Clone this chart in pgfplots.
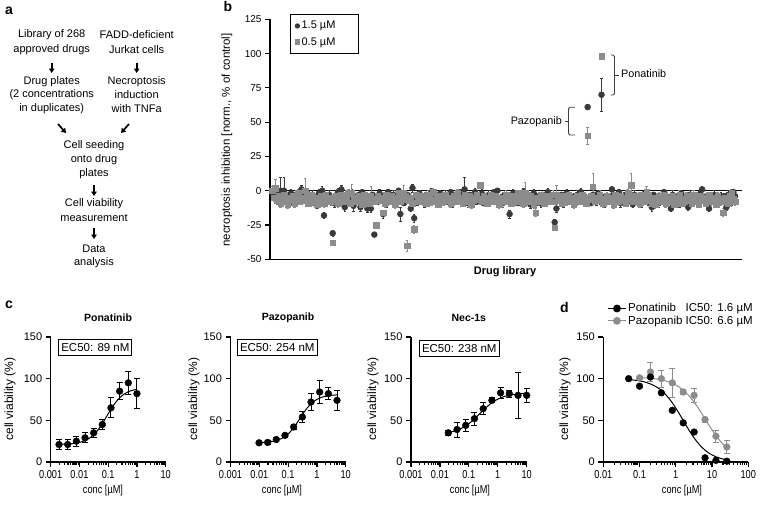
\documentclass[border=0pt]{standalone}
\usepackage{fontspec}
\setmainfont{Liberation Sans}
\newfontfamily\cond{Liberation Sans}[FakeStretch=0.8]
\usepackage{pgfplots}
\pgfplotsset{compat=1.18}
\usepackage{pgfplotstable}
\usetikzlibrary{arrows.meta}
\definecolor{cdark}{HTML}{3A3A3A}
\definecolor{cgray}{HTML}{8C8C8C}
\newcommand{\fsz}[2]{\fontsize{#1}{#2}\selectfont}

\pgfplotstableread{
i d de g ge
1 -1 2 0 3
2 -4 3 -5 2
3 -6 3 2 6
4 -3 2 -7 3
5 -8 3 -4 2
6 0 10 -9 3
7 -5 3 -6 2
8 0 10 -3 3
9 -7 2 -8 2
10 -4 3 -10 3
11 -9 2 -5 2
12 -2 3 -7 3
13 -6 2 -4 2
14 -8 3 -9 3
15 -3 2 -6 2
16 -5 3 -2 3
17 -7 2 -8 2
18 1 3 -5 3
19 -4 2 -7 2
20 -6 3 0 9
21 -1 2 -4 3
22 -8 3 -9 2
23 -5 2 -6 3
24 -3 3 -3 2
25 -7 2 -8 3
26 -9 3 -5 2
27 -11 2 -10 3
28 -2 3 -7 2
29 -6 2 -4 3
30 0 3 -6 2
31 -18 2 -9 3
32 -5 3 -3 2
33 -8 2 -7 3
34 -3 3 -5 2
35 -6 2 -8 3
36 -31 2 -38 1
37 -9 3 -6 3
38 -4 2 -4 2
39 -1 3 -9 3
40 -7 2 -7 2
41 1 3 -3 3
42 -5 2 -5 2
43 -12 3 -8 3
44 -3 2 -6 2
45 -6 3 -2 3
46 -8 2 -9 2
47 -2 3 -2 7
48 -11 4 -7 2
49 -5 2 -5 3
50 -7 3 -8 2
51 -3 2 -4 3
52 -12 3 -6 2
53 -1 2 -10 3
54 -6 3 -3 2
55 -4 2 -7 3
56 -13 3 -5 2
57 -7 2 -9 3
58 -13 3 -4 7
59 -3 2 -6 3
60 -32 1 -8 2
61 -5 3 -25 2
62 -8 2 -4 3
63 -2 3 -7 2
64 -6 2 -5 3
65 -17 3 -16 2
66 -4 2 -9 3
67 -9 3 -3 2
68 -1 2 -6 3
69 -7 3 -8 2
70 -5 2 -4 3
71 -3 3 -7 2
72 -8 2 -10 3
73 -6 3 -5 2
74 0 2 -2 3
75 -17 5 -8 2
76 -4 3 -6 3
77 -9 2 -2 6
78 -7 3 -4 3
79 -3 2 -40 4
80 -6 3 -7 2
81 -13 2 -5 3
82 2 3 -9 2
83 -20 3 -28 3
84 -5 2 -3 2
85 -8 3 -6 3
86 -2 2 -8 2
87 -6 3 -4 3
88 -4 2 -7 2
89 -9 3 -5 3
90 -3 2 -9 2
91 -7 3 -3 3
92 -5 2 -6 2
93 -1 3 -8 3
94 -8 2 -1 3
95 -6 3 -7 2
96 -4 2 -5 3
97 -9 3 -10 2
98 -2 2 -4 3
99 -7 3 -6 2
100 -5 2 -8 3
101 -3 3 -3 2
102 -8 2 -7 3
103 -6 3 -5 2
104 -1 2 -9 3
105 -9 3 -6 2
106 -4 2 -4 3
107 -7 3 -8 2
108 -5 2 -2 3
109 -2 3 -7 2
110 -8 2 -5 3
111 -6 3 -9 2
112 1 9 -3 3
113 -4 2 -6 2
114 -9 3 -8 3
115 -3 2 -4 2
116 -7 3 -10 3
117 -5 2 -7 2
118 -1 3 -5 3
119 -8 2 -3 2
120 -6 3 -6 3
121 -4 2 4 2
122 -2 3 -8 3
123 -9 2 -4 2
124 -5 3 -7 3
125 -7 2 -9 2
126 -3 3 -5 3
127 -8 2 -3 2
128 -6 3 -6 3
129 -1 2 -8 2
130 -4 3 -4 3
131 0 2 -7 2
132 -7 3 -10 3
133 -5 2 -5 2
134 -9 3 -6 3
135 -3 2 -8 2
136 -6 3 -3 3
137 -8 2 -7 2
138 -17 3 -5 3
139 -4 2 -9 2
140 -2 3 -4 3
141 -7 2 -6 2
142 -5 3 -8 3
143 -9 2 -2 2
144 -3 3 -7 3
145 -6 2 -5 2
146 -1 3 -9 3
147 -8 2 -2 8
148 -4 3 -6 3
149 -7 2 -8 2
150 -10 3 -4 3
151 -5 2 -7 2
152 -2 3 -10 3
153 -6 2 -16 3
154 -8 3 -5 2
155 -4 2 -8 3
156 -9 3 -3 2
157 -3 2 -6 3
158 -7 3 -9 2
159 -5 2 -4 3
160 -1 3 -7 2
161 -8 2 -5 3
162 -6 3 -8 2
163 -4 2 -3 3
164 -23 2 -27 2
165 -13 3 -3 7
166 -5 2 -7 2
167 -7 3 -5 3
168 -3 2 -9 2
169 -9 3 -4 3
170 -6 2 -6 2
171 -2 3 -8 3
172 -8 2 -3 2
173 -4 3 -7 3
174 -7 2 -5 2
175 -5 3 -10 3
176 -9 2 -6 2
177 -3 3 -4 3
178 -6 2 -8 2
179 -1 3 -7 3
180 -8 2 -3 2
181 -4 3 -5 3
182 -7 2 -9 2
183 61 2 40 6
184 -5 3 -6 3
185 -9 2 -4 2
186 -3 3 3 10
187 -6 2 -8 2
188 -8 3 -5 3
189 -2 2 -7 2
190 -7 3 -3 3
191 70 12 98 2
192 -5 2 -9 3
193 -9 3 -6 2
194 -4 2 -4 3
195 -6 3 -8 2
196 -8 2 -5 3
197 1 2 -7 2
198 -3 3 -10 3
199 -7 2 -3 2
200 -5 3 -6 3
201 -1 2 -8 2
202 -9 3 -4 3
203 -6 2 -7 2
204 -4 3 -5 3
205 -8 2 -9 2
206 -2 3 -2 3
207 -7 2 -6 2
208 -5 3 4 9
209 -10 2 -8 3
210 -3 3 -4 2
211 -6 2 -7 3
212 -8 3 -5 2
213 -4 2 -9 3
214 -9 3 -3 2
215 -7 2 -6 3
216 -2 3 -8 2
217 -5 2 -1 4
218 -8 3 -3 3
219 -6 2 -7 2
220 -12 3 -9 3
221 -3 2 -5 2
222 -7 3 -10 3
223 -5 2 -6 2
224 -9 3 -4 3
225 -4 2 -8 2
226 -6 3 -7 3
227 -1 2 -3 2
228 -8 3 -9 3
229 -5 2 -5 2
230 -7 3 -6 3
231 -13 2 -8 2
232 -3 3 -4 3
233 -6 2 -10 2
234 -8 3 -7 3
235 -4 2 -5 2
236 -9 3 -3 3
237 -2 2 -9 2
238 -7 3 -6 3
239 -5 2 -8 2
240 -6 3 -4 3
241 -12 2 -7 2
242 -3 3 -5 3
243 -8 2 -9 2
244 -4 3 -3 3
245 -7 2 -6 2
246 -5 3 -8 3
247 -9 2 -10 2
248 -2 3 -4 3
249 1 2 -7 2
250 -6 3 -5 3
251 -8 2 -9 2
252 -4 3 -6 3
253 -13 2 -3 2
254 -5 3 -8 3
255 -7 2 -7 2
256 -3 3 -5 3
257 -9 2 -10 2
258 -6 3 -4 3
259 -8 2 -6 2
260 -4 3 -8 3
261 -7 2 -16 3
262 -5 3 -5 2
263 -12 2 -7 3
264 -3 3 -9 2
265 -6 2 -4 3
266 -8 3 -2 3
267 -1 2 -6 2
268 -4 3 -8 3
}\tabB

\pgfplotsset{
  cax/.style={scale only axis, height=125pt, ymin=0, ymax=150,
    ytick={0,50,100,150}, axis lines=left, axis line style={-, line width=1.2pt},
    tick style={black, line width=1.2pt}, major tick length=5pt, tick align=outside,
    minor x tick num=0, clip=false,
    /pgf/number format/assume math mode=true,
    yticklabel style={font=\fsz{11}{13}},
    xticklabel style={font=\cond\fsz{11.5}{13}},
    anchor=south west},
  ebar/.style={error bars/y dir=both, error bars/y explicit,
    error bars/error bar style={line width=1pt, #1},
    error bars/error mark options={rotate=90, mark size=3pt, line width=1pt, #1}},
  ebarthin/.style={error bars/y dir=both, error bars/y explicit,
    error bars/error bar style={line width=0.7pt, #1},
    error bars/error mark options={rotate=90, mark size=1.2pt, line width=0.7pt, #1}},
  fitline/.style={#1, line width=1pt, no marks, smooth},
  pts/.style={only marks, mark=*, mark size=3.4pt, #1, mark options={fill=#1, draw=#1}},
}

\begin{document}
\begin{tikzpicture}[x=1pt,y=1pt]
\useasboundingbox (0,0) rectangle (760,-504);

% ---------- panel a ----------
\node[font=\bfseries\fsz{14}{16}, anchor=base west] at (1.7,-14) {a};
\begin{scope}[every node/.style={font=\fsz{11}{13}}]
\node at (51.7,-35) {Library of 268};
\node at (51.7,-49.5) {approved drugs};
\node at (136.7,-35) {FADD-deficient};
\node at (136.7,-49.5) {Jurkat cells};
\node at (51.7,-81.7) {Drug plates};
\node at (51.7,-95) {(2 concentrations};
\node at (51.7,-108.3) {in duplicates)};
\node at (136.7,-81.7) {Necroptosis};
\node at (136.7,-95) {induction};
\node at (136.7,-108.3) {with TNFa};
\node at (94,-145.7) {Cell seeding};
\node at (94,-160) {onto drug};
\node at (94,-174) {plates};
\node at (94,-203.3) {Cell viability};
\node at (94,-217.7) {measurement};
\node at (94,-248.3) {Data};
\node at (94,-263) {analysis};
\end{scope}
\begin{scope}[line width=1.7pt, -{Triangle[length=4.5pt,width=5.5pt]}]
\draw (51.7,-63) -- (51.7,-73);
\draw (136.7,-63) -- (136.7,-73);
\draw (58,-124) -- (66,-133);
\draw (129,-124) -- (121,-133);
\draw (94,-185) -- (94,-196);
\draw (94,-228) -- (94,-239);
\end{scope}

% ---------- panel b ----------
\node[font=\bfseries\fsz{14}{16}, anchor=base west] at (220,-11.5) {b};
\begin{axis}[scale only axis, width=472pt, height=240pt, at={(270pt,-259.3pt)}, anchor=south west,
  xmin=-0.15, xmax=272, ymin=-50, ymax=125, xtick=\empty,
  ytick={-50,-25,0,25,50,75,100,125},
  axis lines=left, axis line style={-, line width=1.2pt},
  tick style={black, line width=1.2pt}, major tick length=5pt, tick align=outside,
  /pgf/number format/assume math mode=true,
  yticklabel style={font=\fsz{10}{12}},
  clip=false,
  legend style={draw=black, line width=0.8pt, font=\fsz{11}{13}, at={(0.042,1.022)}, anchor=north west,
    row sep=3pt, inner xsep=5pt, inner ysep=5pt, legend cell align=left},
  legend image post style={mark size=2.2pt}]
\addplot[black, line width=1.2pt, forget plot] coordinates {(-0.15,0) (272,0)};
\addplot[only marks, mark=*, mark size=3pt, color=cdark, ebarthin=cdark]
  table[x=i, y=d, y error=de] {\tabB};
\addlegendentry{\makebox[50pt][l]{1.5 µM}}
\addplot[only marks, mark=square*, mark size=2.8pt, color=cgray, ebarthin=cgray]
  table[x=i, y=g, y error=ge] {\tabB};
\addlegendentry{\makebox[50pt][l]{0.5 µM}}
\end{axis}
\node[rotate=90, font=\fsz{11.5}{13}] at (227,-140) {necroptosis inhibition [norm., \% of control]};
\node[font=\bfseries\fsz{11}{13}] at (505,-271.7) {Drug library};
\draw[line width=0.8pt, black!75, rounded corners=1.5pt] (610.7,-55) -- (614.5,-55) -- (614.5,-95) -- (610.7,-95);
\draw[line width=0.8pt, black!75] (614.5,-75) -- (618.5,-75);
\node[anchor=west, font=\fsz{10.8}{13}, inner sep=1pt] at (620,-74) {Ponatinib};
\draw[line width=0.8pt, black!75, rounded corners=1.5pt] (575,-107.3) -- (568.5,-107.3) -- (568.5,-135) -- (575,-135);
\draw[line width=0.8pt, black!75] (568.5,-121.7) -- (564.5,-121.7);
\node[anchor=east, font=\fsz{10.8}{13}, inner sep=1pt] at (563,-121.7) {Pazopanib};

% ---------- panel c ----------
\node[font=\bfseries\fsz{14}{16}, anchor=base west] at (1.7,-308.3) {c};
\begin{axis}[xmode=log, cax, xmin=0.001, xmax=10, xtick={0.001,0.01,0.1,1,10}, xticklabels={0.001,0.01,0.1,1,10},
  width=115pt, at={(50.7pt,-462pt)}]
\addplot[fitline=black] coordinates {(0.001995,21.2) (0.002818,21.4) (0.003981,21.6) (0.005623,22.1) (0.007943,22.8) (0.01122,23.9) (0.01585,25.8) (0.02239,28.6) (0.03162,32.9) (0.04467,38.8) (0.0631,46.4) (0.08913,55) (0.1259,63.6) (0.1778,71.2) (0.2512,77.1) (0.3548,81.4) (0.5012,84.3) (0.7079,86.1) (1,87.2)};
\addplot[pts=black, ebar=black] table[x=x, y=y, y error=e] {
x y e
0.00195 21 6
0.0039 21 6
0.0078 25 6
0.0156 29 6
0.03125 35 5
0.0625 45 6
0.125 65 12
0.25 85 10
0.5 95 14
1 82 18
};
\end{axis}
\begin{axis}[xmode=log, cax, xmin=0.001, xmax=10, xtick={0.001,0.01,0.1,1,10}, xticklabels={0.001,0.01,0.1,1,10},
  width=115.2pt, at={(230.5pt,-462pt)}]
\addplot[fitline=black] coordinates {(0.0098,23.3) (0.01995,24.0) (0.03981,25.8) (0.05623,27.8) (0.07943,30.8) (0.1122,35.3) (0.1585,41.5) (0.2239,49.1) (0.3162,57.0) (0.4467,64.3) (0.631,70.0) (0.8913,74.1) (1.259,76.8) (1.778,78.5) (2.512,79.6) (3.548,80.2) (5.012,80.5)};
\addplot[pts=black, ebar=black] table[x=x, y=y, y error=e] {
x y e
0.0098 23 2
0.0195 23.5 2
0.039 27 2
0.078 32 2
0.156 42 3
0.3125 54 7
0.625 72 10
1.25 84 14
2.5 82 7
5 74 12
};
\end{axis}
\begin{axis}[xmode=log, cax, xmin=0.001, xmax=10, xtick={0.001,0.01,0.1,1,10}, xticklabels={0.001,0.01,0.1,1,10},
  width=115.7pt, at={(411pt,-462pt)}]
\addplot[fitline=black] coordinates {(0.0195,35.4) (0.02818,36.6) (0.03981,38.2) (0.05623,40.5) (0.07943,43.6) (0.1122,47.4) (0.1585,52) (0.2239,57.1) (0.3162,62.2) (0.4467,67) (0.631,71.2) (0.8913,74.5) (1.259,77) (1.778,78.9) (2.512,80.2) (3.548,81.1) (5.012,81.7) (7.079,82.2) (10,82.4)};
\addplot[pts=black, ebar=black] table[x=x, y=y, y error=e] {
x y e
0.0195 35 3
0.039 39 9
0.078 44 7
0.156 52 8
0.3125 64 7
0.625 74 3
1.25 83 7
2.5 82 4
5 80 28
10 80 8
};
\end{axis}
\node[font=\bfseries\fsz{10.5}{12}] at (108,-318) {Ponatinib};
\node[font=\bfseries\fsz{10.5}{12}] at (288,-318) {Pazopanib};
\node[font=\bfseries\fsz{10.5}{12}] at (468.8,-318) {Nec-1s};
\begin{scope}[every node/.style={draw, line width=1pt, inner xsep=2.5pt, inner ysep=4pt, anchor=west, font=\fsz{11.5}{13}}]
\node at (58.3,-347.5) {EC50: 89 nM};
\node at (237,-347.5) {EC50: 254 nM};
\node at (419,-348.5) {EC50: 238 nM};
\end{scope}
\begin{scope}[every node/.style={rotate=90, font=\fsz{12}{14}}]
\node at (10,-399) {cell viability (\%)};
\node at (194,-399) {cell viability (\%)};
\node at (373,-399) {cell viability (\%)};
\node at (565,-399) {cell viability (\%)};
\end{scope}
\begin{scope}[every node/.style={font=\cond\fsz{11.5}{13}}]
\node at (103,-491) {conc [µM]};
\node at (282,-491) {conc [µM]};
\node at (470,-491) {conc [µM]};
\node at (682,-491) {conc [µM]};
\end{scope}

% ---------- panel d ----------
\node[font=\bfseries\fsz{14}{16}, anchor=base west] at (556.7,-312.3) {d};
\begin{axis}[xmode=log, cax, width=145pt, at={(603.3pt,-462pt)}, xmin=0.01, xmax=100,
  xtick={0.01,0.1,1,10,100}, xticklabels={0.01,0.1,1,10,100},
  legend style={draw=none, fill=none, at={(0.03,1.285)}, anchor=north west, font=\fsz{11.5}{13},
    row sep=-1.5pt, inner sep=0pt, legend cell align=left}]
\addlegendimage{black, line width=1.2pt, mark=*, mark size=3.3pt}
\addlegendentry{\rlap{Ponatinib}\phantom{Pazopanib} IC50: 1.6 µM}
\addlegendimage{cgray, line width=1.2pt, mark=*, mark size=3.3pt, mark options={fill=cgray}}
\addlegendentry{Pazopanib IC50: 6.6 µM}
\addplot[fitline=black, forget plot] coordinates {(0.0501,98.9) (0.0794,98.0) (0.1259,96.5) (0.1995,93.7) (0.3162,89.2) (0.5012,81.9) (0.7943,71.3) (1.259,57.7) (1.995,42.8) (3.162,29.2) (5.012,18.5) (7.943,11.1) (12.59,6.4) (19.95,3.6) (25.6,2.65)};
\addplot[fitline=cgray, forget plot] coordinates {(0.1,101.3) (0.1585,100.9) (0.2512,100.0) (0.3981,98.6) (0.631,96.3) (1,92.4) (1.585,86.4) (2.512,77.7) (3.981,66.0) (6.31,52.3) (10,38.5) (15.85,26.4) (25.6,16.8)};
\addplot[pts=cgray, forget plot, ebar=cgray] table[x=x, y=y, y error=e] {
x y e
0.1 101 2
0.2 108 11
0.4 100 10
0.8 95 17
1.6 84 3
3.2 80 8
6.4 51 3
12.8 31 7
25.6 18 8
};
\addplot[pts=black, forget plot] table[x=x, y=y] {
x y
0.05 100
0.1 91
0.2 102
0.4 83
0.8 62
1.6 47
3.2 36
6.4 5
12.8 2
25.6 1
};
\end{axis}
\end{tikzpicture}
\end{document}
